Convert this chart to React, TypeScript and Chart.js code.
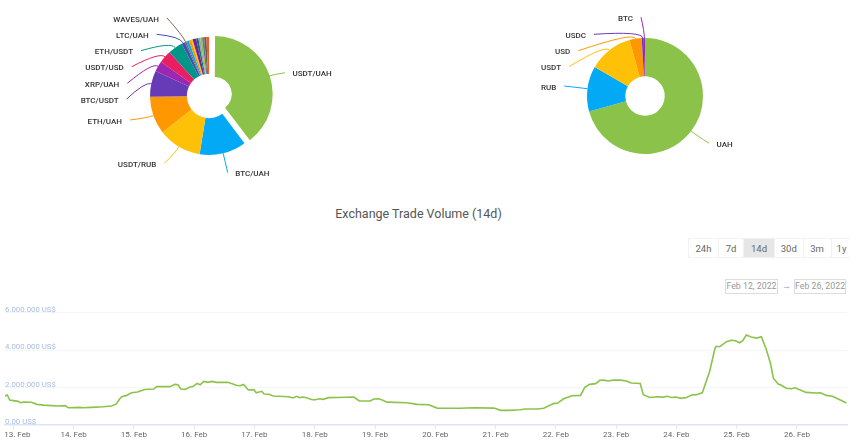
import { useEffect, useRef } from "react";
import { Chart, registerables, type Plugin } from "chart.js";

Chart.register(...registerables);

const FONT = 'Roboto, sans-serif';

const pairNames = [
  "USDT/UAH", "BTC/UAH", "USDT/RUB", "ETH/UAH", "BTC/USDT", "XRP/UAH", "USDT/USD", "ETH/USDT", "LTC/UAH", "WAVES/UAH",
  "", "", "", "", "", "", "", "", "", "",
];
const pairShares = [39.7, 12.8, 11.9, 10.3, 7.2, 2.9, 3.4, 4.0, 1.0, 0.4, 0.7, 0.7, 0.4, 1.0, 0.6, 0.5, 0.5, 0.6, 0.6, 0.7];
const pairColors = [
  "#8BC34A", "#03A9F4", "#FFC107", "#FF9800", "#673AB7", "#9C27B0", "#E91E63", "#009688", "#3F51B5", "#7A6A4F",
  "#03A9F4", "#FF9800", "#FFC107", "#7B1FA2", "#00796B", "#9E9E9E", "#8BC34A", "#607D8B", "#795548", "#FF5722",
];

const currencyNames = ["UAH", "RUB", "USDT", "USD", "USDC", "BTC"];
const currencyShares = [70.7, 12.6, 12.4, 3.4, 0.55, 0.35];
const currencyColors = ["#8BC34A", "#03A9F4", "#FFC107", "#FF9800", "#673AB7", "#9C27B0"];

// where each leader line starts, the text sits just beyond it (page px)
const pairLabels = [
  { i: 0, x: 285, y: 72.7, side: "right" },
  { i: 1, x: 227.7, y: 172.7, side: "right" },
  { i: 2, x: 164.3, y: 163.3, side: "left" },
  { i: 3, x: 130, y: 120, side: "left" },
  { i: 4, x: 126.7, y: 99, side: "left" },
  { i: 5, x: 127.3, y: 83.3, side: "left" },
  { i: 6, x: 131.7, y: 66.7, side: "left" },
  { i: 7, x: 141, y: 50.7, side: "left" },
  { i: 8, x: 156.7, y: 34.3, side: "left" },
  { i: 9, x: 167, y: 18, side: "left" },
];
const currencyLabels = [
  { i: 0, x: 709, y: 143.3, side: "right" },
  { i: 1, x: 564.3, y: 86, side: "left" },
  { i: 2, x: 569, y: 66.7, side: "left" },
  { i: 3, x: 578.3, y: 50.7, side: "left" },
  { i: 4, x: 594, y: 34.3, side: "left" },
  { i: 5, x: 641, y: 17.3, side: "left" },
];

const days = [
  12.86, 12.9, 12.94, 13, 13.08, 13.12, 13.17, 13.3, 13.39, 13.5, 13.64, 13.75, 13.86, 13.91, 14.1, 14.16, 14.3, 14.49,
  14.63, 14.71, 14.76, 14.8, 14.88, 14.96, 15.06, 15.18, 15.33, 15.38, 15.6, 15.68, 15.73, 15.78, 15.85, 15.93, 15.98,
  16.05, 16.1, 16.16, 16.23, 16.29, 16.37, 16.56, 16.7, 16.76, 16.82, 16.9, 16.99, 17.03, 17.12, 17.16, 17.24, 17.31,
  17.57, 17.64, 17.7, 17.75, 17.82, 17.96, 18.01, 18.08, 18.14, 18.23, 18.37, 18.65, 18.74, 18.92, 18.98, 19.06, 19.12,
  19.2, 19.53, 19.7, 19.89, 20.03, 20.41, 20.64, 20.97, 21.09, 21.22, 21.41, 21.49, 21.69, 21.8, 21.96, 22.03, 22.13,
  22.27, 22.41, 22.48, 22.56, 22.66, 22.73, 22.78, 22.88, 22.95, 23.07, 23.17, 23.25, 23.4, 23.45, 23.56, 23.68, 23.78,
  23.85, 23.92, 23.99, 24.08, 24.17, 24.25, 24.33, 24.43, 24.55, 24.64, 24.66, 24.72, 24.83, 24.91, 24.98, 25.05, 25.1,
  25.16, 25.24, 25.33, 25.41, 25.49, 25.56, 25.61, 25.69, 25.74, 25.82, 25.91, 25.97, 26.15, 26.32, 26.39, 26.49, 26.59,
  26.71, 26.82,
];
// millions of US$
const volumes = [
  1.54, 1.59, 1.32, 1.29, 1.25, 1.18, 1.21, 1.2, 1.09, 1.05, 1.02, 1, 1.02, 0.91, 0.93, 0.91, 0.93, 0.96,
  1, 1.11, 1.36, 1.5, 1.57, 1.71, 1.75, 1.89, 1.91, 2.04, 2.04, 2.16, 2.14, 1.91, 1.89, 2.02, 2.05,
  2.21, 2.14, 2.32, 2.27, 2.32, 2.27, 2.27, 2.11, 2.09, 2.16, 1.86, 1.88, 1.71, 1.79, 1.64, 1.63, 1.54,
  1.5, 1.43, 1.52, 1.45, 1.48, 1.34, 1.34, 1.39, 1.36, 1.45, 1.46, 1.48, 1.27, 1.27, 1.38, 1.39, 1.32,
  1.21, 1.18, 1.09, 1.07, 0.89, 0.88, 0.91, 0.89, 0.77, 0.77, 0.8, 0.84, 0.84, 0.88, 1.13, 1.16, 1.39,
  1.55, 1.57, 2, 2.16, 2.2, 2.38, 2.39, 2.34, 2.39, 2.39, 2.34, 2.23, 2.21, 1.61, 1.46, 1.5, 1.48,
  1.52, 1.46, 1.48, 1.41, 1.46, 1.59, 1.61, 1.71, 2.84, 4.09, 4.2, 4.18, 4.45, 4.52, 4.5, 4.39, 4.5,
  4.8, 4.7, 4.64, 4.71, 4.04, 3.29, 2.48, 2.18, 2.11, 1.95, 1.93, 1.98, 1.73, 1.7, 1.71, 1.57, 1.52,
  1.34, 1.16,
];

const ranges = ["24h", "7d", "14d", "30d", "3m", "1y"];
const activeRange = "14d";
const rangeWidths = [30, 25, 31, 28.5, 28, 20];
const dateFrom = "Feb 12, 2022";
const dateTo = "Feb 26, 2022";

type LabelPos = { i: number; x: number; y: number; side: string };

function leaderPlugin(labels: LabelPos[], canvasLeft: number): Plugin<"doughnut"> {
  return {
    id: "leaders",
    afterDatasetsUpdate(chart) {
      // the pulled-out slice keeps the ring's outer size and hugs the hole
      chart.getDatasetMeta(0).data.forEach((el: any) => {
        if (el.options.offset > 0) {
          el.outerRadius -= 3.4;
          el.innerRadius -= 7.4;
        }
      });
    },
    afterDatasetsDraw(chart) {
      const { ctx } = chart;
      const meta = chart.getDatasetMeta(0);
      const colors = chart.data.datasets[0].backgroundColor as string[];
      const names = chart.data.labels as string[];
      ctx.save();
      ctx.font = `500 8px ${FONT}`;
      ctx.textBaseline = "middle";
      labels.forEach((l) => {
        const arc = meta.data[l.i] as any;
        const a = (arc.startAngle + arc.endAngle) / 2;
        // chart.js only moves an exploded arc by a quarter of its offset
        const r = arc.outerRadius + (arc.options.offset || 0) / 4;
        const ax = arc.x + Math.cos(a) * r;
        const ay = arc.y + Math.sin(a) * r;
        const x = l.x - canvasLeft;
        ctx.strokeStyle = colors[l.i];
        ctx.lineWidth = 1;
        ctx.beginPath();
        ctx.moveTo(x, l.y);
        ctx.quadraticCurveTo(ax + Math.cos(a) * 7, ay + Math.sin(a) * 7, ax, ay);
        ctx.stroke();
        ctx.fillStyle = "#333";
        ctx.textAlign = l.side === "left" ? "right" : "left";
        ctx.fillText(names[l.i], l.side === "left" ? x - 8 : x + 7.5, l.y + 1.5);
      });
      ctx.restore();
    },
  };
}

interface DonutProps {
  names: string[];
  shares: number[];
  colors: string[];
  offsets: number[];
  labels: LabelPos[];
  cutout: string;
  radius: number;
  left: number;
  width: number;
  height: number;
}

function Donut({ names, shares, colors, offsets, labels, cutout, radius, left, width, height }: DonutProps) {
  const canvasRef = useRef<HTMLCanvasElement>(null);

  useEffect(() => {
    if (!canvasRef.current) return;
    const chart = new Chart(canvasRef.current, {
      type: "doughnut",
      data: {
        labels: names,
        datasets: [{ data: shares, backgroundColor: colors, borderWidth: 0, offset: offsets }],
      },
      options: {
        animation: false,
        responsive: false,
        cutout,
        radius,
        plugins: { legend: { display: false }, tooltip: { enabled: false } },
      },
      plugins: [leaderPlugin(labels, left)],
    });
    return () => chart.destroy();
  }, []);

  return <canvas ref={canvasRef} width={width} height={height} style={{ position: "absolute", left, top: 0 }} />;
}

function VolumeChart() {
  const canvasRef = useRef<HTMLCanvasElement>(null);

  useEffect(() => {
    if (!canvasRef.current) return;
    const chart = new Chart(canvasRef.current, {
      type: "line",
      data: {
        labels: days,
        datasets: [
          {
            data: days.map((d, i) => ({ x: d, y: volumes[i] })),
            borderColor: "#8BC34A",
            borderWidth: 1.6,
            pointRadius: 0,
            tension: 0,
          },
        ],
      },
      options: {
        animation: false,
        responsive: false,
        layout: { padding: { left: 5, right: 3, top: 12.7, bottom: 0 } },
        plugins: { legend: { display: false }, tooltip: { enabled: false } },
        scales: {
          x: {
            type: "linear",
            min: 12.862,
            max: 26.83,
            afterFit: (scale) => {
              scale.height = 23.3;
              // overflowing tick labels must not push the plot area in
              scale.paddingLeft = 0;
              scale.paddingRight = 0;
            },
            grid: { drawOnChartArea: false, color: "#dfe3f3", tickLength: 4 },
            border: { color: "#dfe3f3", width: 1.5 },
            ticks: {
              stepSize: 1,
              includeBounds: false,
              autoSkip: false,
              maxRotation: 0,
              padding: 1,
              color: "#666",
              font: { family: FONT, size: 8 },
              // leading spaces: the first label is nudged right, off the page edge
              callback: (v) => (v === 13 ? `    ${v}. Feb` : `${v}. Feb`),
            },
          },
          y: {
            min: 0,
            max: 6,
            grid: { color: "#f5f6fb", drawTicks: false },
            border: { display: false },
            ticks: {
              stepSize: 2,
              mirror: true,
              padding: 0,
              labelOffset: -2.5,
              color: "#a9bce4",
              font: { family: FONT, size: 7.8 },
              callback: (v) => (v === 0 ? "0.00 US$" : `${v}.000.000 US$`),
            },
          },
        },
      },
    });
    return () => chart.destroy();
  }, []);

  return <canvas ref={canvasRef} width={850} height={148} style={{ position: "absolute", left: 0, top: 300 }} />;
}

function DateBox({ text, left, width }: { text: string; left: number; width: number }) {
  return (
    <div
      style={{
        position: "absolute",
        left,
        top: 279,
        width,
        height: 15,
        boxSizing: "border-box",
        border: "1px solid #ddd",
        color: "#999",
        fontSize: 8.8,
        lineHeight: "13px",
        textAlign: "center",
        whiteSpace: "nowrap",
      }}
    >
      {text}
    </div>
  );
}

export default function App() {
  return (
    <div style={{ position: "absolute", left: 0, top: 0, width: 850, height: 448, overflow: "hidden", background: "#fff", fontFamily: FONT }}>
      <Donut
        names={pairNames}
        shares={pairShares}
        colors={pairColors}
        offsets={pairShares.map((_, i) => (i === 0 ? 24 : 0))}
        labels={pairLabels}
        cutout="37.5%"
        radius={59}
        left={0}
        width={418}
        height={192}
      />
      <Donut
        names={currencyNames}
        shares={currencyShares}
        colors={currencyColors}
        offsets={currencyShares.map(() => 0)}
        labels={currencyLabels}
        cutout="34%"
        radius={58}
        left={440}
        width={410}
        height={192}
      />

      <div style={{ position: "absolute", left: 218.5, width: 400, top: 204, textAlign: "center", fontSize: 12.5, lineHeight: "20px", color: "#555" }}>
        Exchange Trade Volume (14d)
      </div>

      <div style={{ position: "absolute", left: 688, top: 238, display: "flex", height: 20, border: "1px solid #f2f2f2", boxSizing: "border-box" }}>
        {ranges.map((r, i) => (
          <div
            key={r}
            style={{
              width: rangeWidths[i],
              textAlign: "center",
              fontSize: 9.5,
              lineHeight: "19px",
              color: "#666",
              background: r === activeRange ? "#e6e6e6" : "#fff",
              borderRight: i < ranges.length - 1 ? "1px solid #f2f2f2" : "none",
              boxSizing: "border-box",
            }}
          >
            {r}
          </div>
        ))}
      </div>

      <DateBox text={dateFrom} left={725} width={53} />
      <div style={{ position: "absolute", left: 782, top: 279, fontSize: 9, lineHeight: "14px", color: "#999" }}>→</div>
      <DateBox text={dateTo} left={794} width={52} />

      <VolumeChart />
    </div>
  );
}
